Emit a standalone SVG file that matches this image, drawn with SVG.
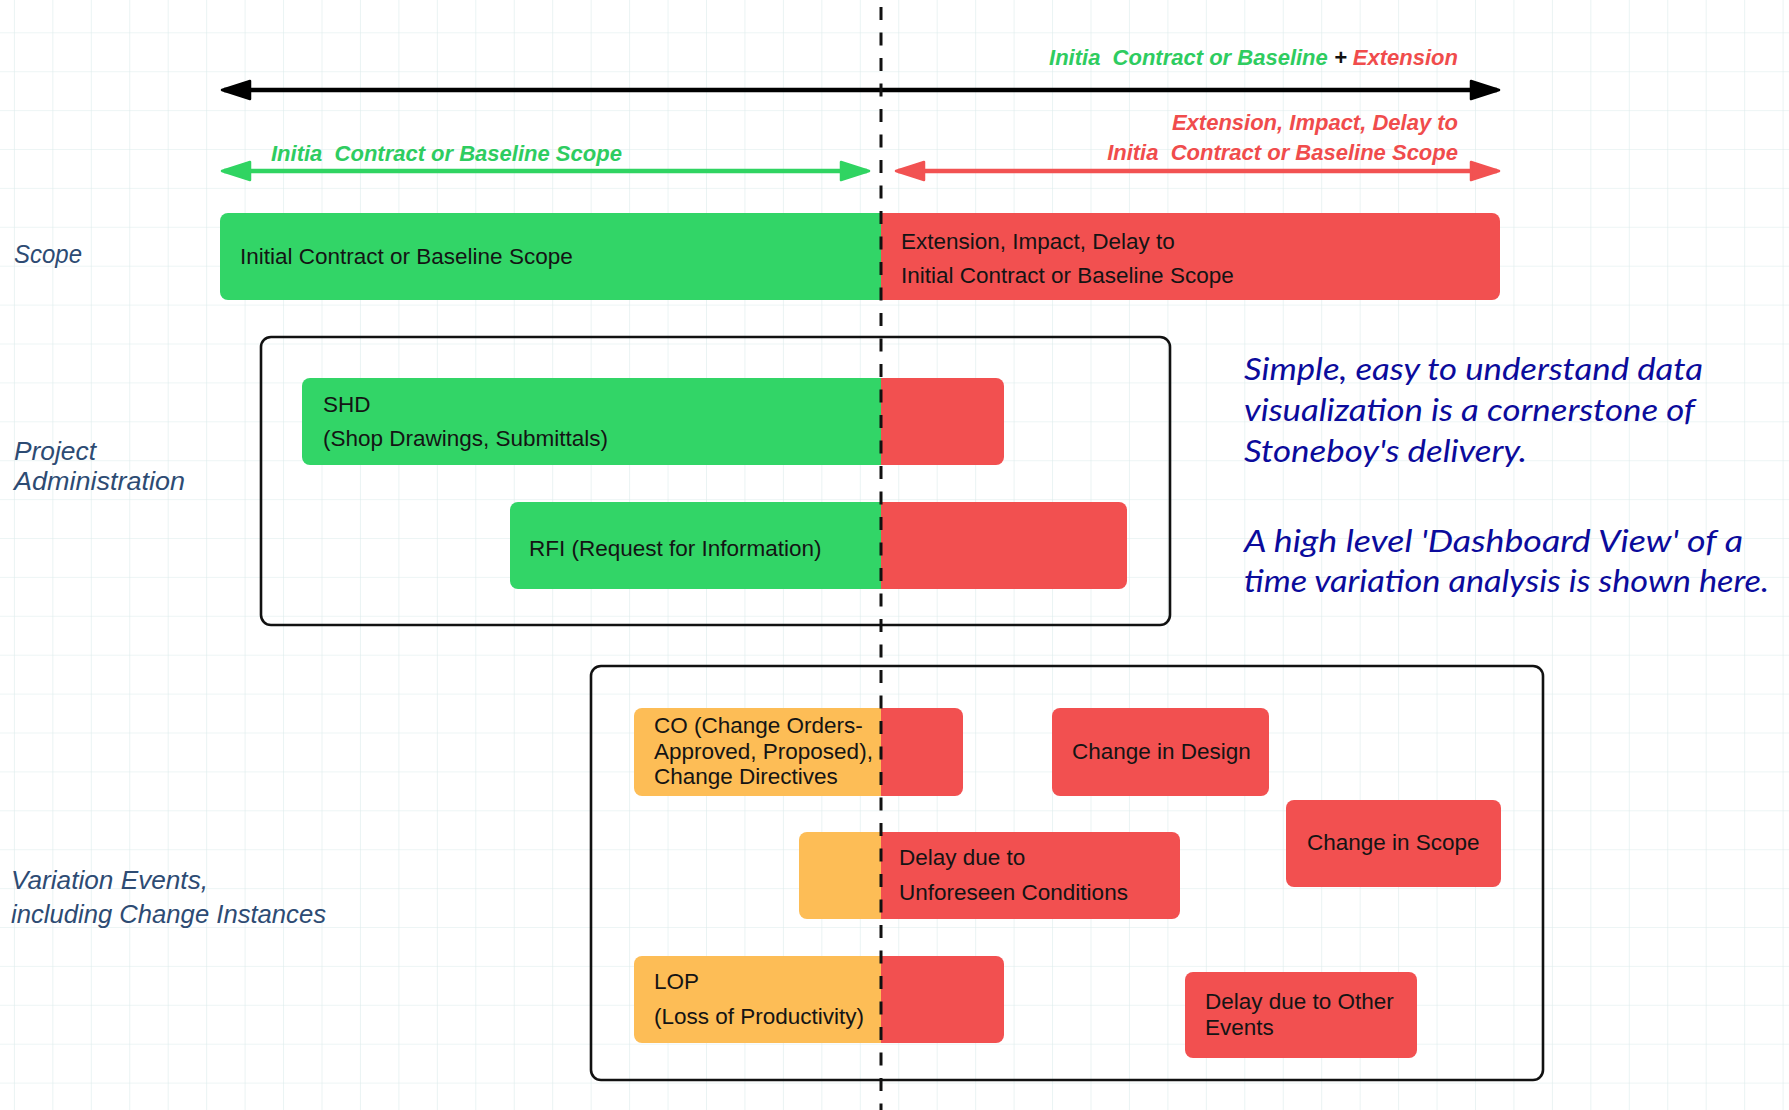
<svg xmlns="http://www.w3.org/2000/svg" width="1789" height="1110" viewBox="0 0 1789 1110">
  <defs>
    <pattern id="grid" patternUnits="userSpaceOnUse" x="13.9" y="32.3" width="38.45" height="38.9">
      <path d="M0,0 V38.9 M0,0 H38.45" fill="none" stroke="#dcecec" stroke-width="1.2"/>
    </pattern>
    <marker id="head-black" viewBox="0 0 32 22" refX="28" refY="11" markerWidth="32" markerHeight="22" markerUnits="userSpaceOnUse" orient="auto-start-reverse">
      <path d="M2,2 L30,11 L2,20 Z" fill="#000" stroke="#000" stroke-width="2.5" stroke-linejoin="round"/>
    </marker>
    <marker id="head-green" viewBox="0 0 32 22" refX="28" refY="11" markerWidth="32" markerHeight="22" markerUnits="userSpaceOnUse" orient="auto-start-reverse">
      <path d="M2,2 L30,11 L2,20 Z" fill="#30d462" stroke="#30d462" stroke-width="2.5" stroke-linejoin="round"/>
    </marker>
    <marker id="head-red" viewBox="0 0 32 22" refX="28" refY="11" markerWidth="32" markerHeight="22" markerUnits="userSpaceOnUse" orient="auto-start-reverse">
      <path d="M2,2 L30,11 L2,20 Z" fill="#f25252" stroke="#f25252" stroke-width="2.5" stroke-linejoin="round"/>
    </marker>
    <style>
      .green { fill: #32d567; }
      .red { fill: #f25050; }
      .orange { fill: #fdbd56; }
      .frame { fill: none; stroke: #111; stroke-width: 2.6; }
      .bar { font-family: "Liberation Sans", Arial, sans-serif; font-size: 22.5px; fill: #141414; }
      .lbl { font-family: "Liberation Sans", Arial, sans-serif; font-style: italic; font-size: 25px; fill: #2d4b73; }
      .hdr { font-family: "Liberation Sans", Arial, sans-serif; font-style: italic; font-weight: bold; font-size: 22px; }
      .note { font-family: Lato, "Liberation Sans", sans-serif; font-style: italic; font-size: 30px; fill: #0b0b9c; }
      .span-line { fill: none; stroke-width: 4.5; }
    </style>
  </defs>

  <!-- background with grid -->
  <rect width="1789" height="1110" fill="#ffffff"/>
  <rect width="1789" height="1110" fill="url(#grid)"/>

  <!-- row labels -->
  <g id="label-scope">
    <text class="lbl" x="14" y="263" textLength="68" lengthAdjust="spacingAndGlyphs">Scope</text>
  </g>
  <g id="label-admin">
    <text class="lbl" x="14" y="460" textLength="82" lengthAdjust="spacingAndGlyphs">Project</text>
    <text class="lbl" x="14" y="490" textLength="171" lengthAdjust="spacingAndGlyphs">Administration</text>
  </g>
  <g id="label-variation">
    <text class="lbl" x="11" y="889" textLength="197" lengthAdjust="spacingAndGlyphs">Variation Events,</text>
    <text class="lbl" x="11" y="923" textLength="315" lengthAdjust="spacingAndGlyphs">including Change Instances</text>
  </g>

  <!-- span headings -->
  <g id="heading-total">
    <text class="hdr" x="1458" y="65" text-anchor="end" xml:space="preserve"><tspan fill="#2ecc60">Initia  Contract or Baseline</tspan><tspan fill="#111"> + </tspan><tspan fill="#f04c4c">Extension</tspan></text>
  </g>
  <g id="heading-baseline">
    <text class="hdr" x="271" y="161" fill="#2ecc60" xml:space="preserve">Initia  Contract or Baseline Scope</text>
  </g>
  <g id="heading-extension">
    <text class="hdr" x="1458" y="130" text-anchor="end" fill="#f04c4c">Extension, Impact, Delay to</text>
    <text class="hdr" x="1458" y="160" text-anchor="end" fill="#f04c4c" xml:space="preserve">Initia  Contract or Baseline Scope</text>
  </g>

  <!-- span arrows -->
  <g id="connectors">
    <line x1="224" y1="90" x2="1497" y2="90" class="span-line" stroke="#000" stroke-width="4" marker-start="url(#head-black)" marker-end="url(#head-black)"/>
    <line x1="224" y1="171" x2="867" y2="171" class="span-line" stroke="#30d462" marker-start="url(#head-green)" marker-end="url(#head-green)"/>
    <line x1="898" y1="171" x2="1497" y2="171" class="span-line" stroke="#f25252" marker-start="url(#head-red)" marker-end="url(#head-red)"/>
  </g>

  <!-- scope bar -->
  <g id="scope-bar">
    <path class="green" d="M228,213 H881 V300 H228 A8,8 0 0 1 220,292 V221 A8,8 0 0 1 228,213 Z"/>
    <path class="red" d="M881,213 H1492 A8,8 0 0 1 1500,221 V292 A8,8 0 0 1 1492,300 H881 Z"/>
    <text class="bar" x="240" y="264">Initial Contract or Baseline Scope</text>
    <text class="bar" x="901" y="249">Extension, Impact, Delay to</text>
    <text class="bar" x="901" y="283">Initial Contract or Baseline Scope</text>
  </g>

  <!-- project administration -->
  <g id="admin-frame">
    <rect class="frame" x="261" y="337" width="909" height="288" rx="10"/>
  </g>
  <g id="shd-bar">
    <path class="green" d="M310,378 H881 V465 H310 A8,8 0 0 1 302,457 V386 A8,8 0 0 1 310,378 Z"/>
    <path class="red" d="M881,378 H996 A8,8 0 0 1 1004,386 V457 A8,8 0 0 1 996,465 H881 Z"/>
    <text class="bar" x="323" y="412">SHD</text>
    <text class="bar" x="323" y="446">(Shop Drawings, Submittals)</text>
  </g>
  <g id="rfi-bar">
    <path class="green" d="M518,502 H881 V589 H518 A8,8 0 0 1 510,581 V510 A8,8 0 0 1 518,502 Z"/>
    <path class="red" d="M881,502 H1119 A8,8 0 0 1 1127,510 V581 A8,8 0 0 1 1119,589 H881 Z"/>
    <text class="bar" x="529" y="556">RFI (Request for Information)</text>
  </g>

  <!-- variation events -->
  <g id="variation-frame">
    <rect class="frame" x="591" y="666" width="952" height="414" rx="10"/>
  </g>
  <g id="co-bar">
    <path class="orange" d="M642,708 H881 V796 H642 A8,8 0 0 1 634,788 V716 A8,8 0 0 1 642,708 Z"/>
    <path class="red" d="M881,708 H955 A8,8 0 0 1 963,716 V788 A8,8 0 0 1 955,796 H881 Z"/>
    <text class="bar" x="654" y="733">CO (Change Orders-</text>
    <text class="bar" x="654" y="759">Approved, Proposed),</text>
    <text class="bar" x="654" y="784">Change Directives</text>
  </g>
  <g id="change-design">
    <rect class="red" x="1052" y="708" width="217" height="88" rx="8"/>
    <text class="bar" x="1072" y="759">Change in Design</text>
  </g>
  <g id="change-scope">
    <rect class="red" x="1286" y="800" width="215" height="87" rx="8"/>
    <text class="bar" x="1307" y="850">Change in Scope</text>
  </g>
  <g id="unforeseen-bar">
    <path class="orange" d="M807,832 H881 V919 H807 A8,8 0 0 1 799,911 V840 A8,8 0 0 1 807,832 Z"/>
    <path class="red" d="M881,832 H1172 A8,8 0 0 1 1180,840 V911 A8,8 0 0 1 1172,919 H881 Z"/>
    <text class="bar" x="899" y="865">Delay due to</text>
    <text class="bar" x="899" y="900">Unforeseen Conditions</text>
  </g>
  <g id="lop-bar">
    <path class="orange" d="M642,956 H881 V1043 H642 A8,8 0 0 1 634,1035 V964 A8,8 0 0 1 642,956 Z"/>
    <path class="red" d="M881,956 H996 A8,8 0 0 1 1004,964 V1035 A8,8 0 0 1 996,1043 H881 Z"/>
    <text class="bar" x="654" y="989">LOP</text>
    <text class="bar" x="654" y="1024">(Loss of Productivity)</text>
  </g>
  <g id="delay-other">
    <rect class="red" x="1185" y="972" width="232" height="86" rx="8"/>
    <text class="bar" x="1205" y="1009">Delay due to Other</text>
    <text class="bar" x="1205" y="1035">Events</text>
  </g>

  <!-- side note -->
  <g id="note">
    <text class="note" x="1244" y="380" textLength="459" lengthAdjust="spacingAndGlyphs">Simple, easy to understand data</text>
    <text class="note" x="1244" y="421" textLength="451" lengthAdjust="spacingAndGlyphs">visualization is a cornerstone of</text>
    <text class="note" x="1244" y="462" textLength="283" lengthAdjust="spacingAndGlyphs">Stoneboy's delivery.</text>
    <text class="note" x="1244" y="552" textLength="499" lengthAdjust="spacingAndGlyphs">A high level 'Dashboard View' of a</text>
    <text class="note" x="1244" y="592" textLength="525" lengthAdjust="spacingAndGlyphs">time variation analysis is shown here.</text>
  </g>

  <!-- baseline completion marker -->
  <g id="baseline-marker">
    <line x1="881" y1="7" x2="881" y2="1110" stroke="#111" stroke-width="3" stroke-dasharray="13 12.5"/>
  </g>
</svg>
